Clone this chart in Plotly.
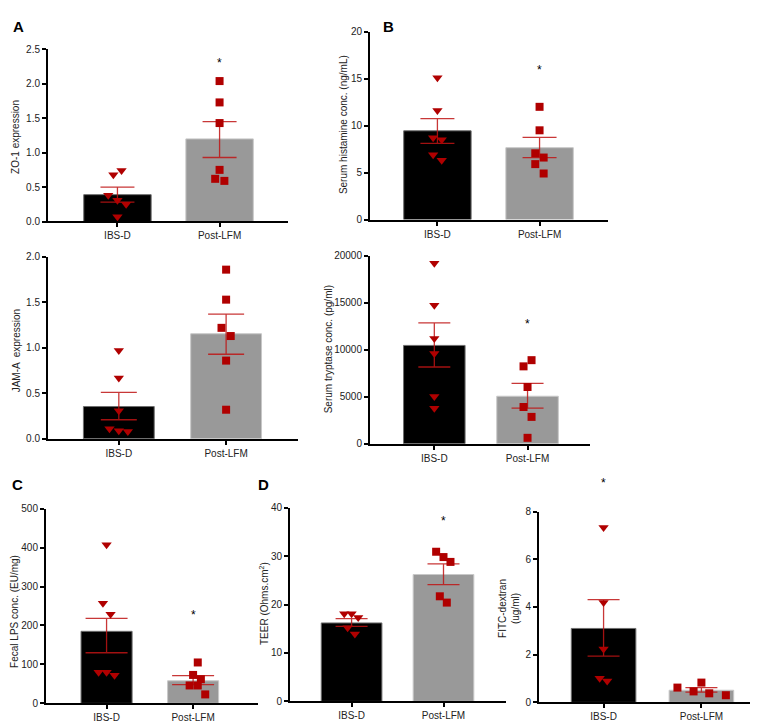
import plotly.graph_objects as go

W, H = 758, 723
groups = ["IBS-D", "Post-LFM"]

# ---------------- data ----------------
# A top: ZO-1 expression
zo1_mean = [0.39, 1.20]
zo1_hi = [0.50, 1.45]
zo1_lo = [0.28, 0.93]
zo1_ibs = [0.68, 0.74, 0.38, 0.31, 0.25, 0.07]
zo1_post = [2.04, 1.73, 1.43, 0.75, 0.62, 0.59]

# A bottom: JAM-A expression
jam_mean = [0.355, 1.155]
jam_hi = [0.51, 1.37]
jam_lo = [0.21, 0.93]
jam_ibs = [0.97, 0.67, 0.31, 0.11, 0.09, 0.08]
jam_post = [1.86, 1.53, 1.22, 1.13, 0.86, 0.32]

# B top: serum histamine
his_mean = [9.45, 7.65]
his_hi = [10.75, 8.75]
his_lo = [8.1, 6.6]
his_ibs = [15.1, 11.6, 8.7, 8.5, 6.9, 6.3]
his_post = [12.0, 9.5, 7.05, 6.6, 5.9, 4.9]

# B bottom: serum tryptase
try_mean = [10470, 5060]
try_hi = [12880, 6420]
try_lo = [8170, 3800]
try_ibs = [19230, 14760, 11200, 9600, 5030, 3770]
try_post = [8900, 8240, 6040, 3910, 2860, 630]

# C: fecal LPS
lps_mean = [185, 58]
lps_hi = [218, 71]
lps_lo = [130, 48]
lps_ibs = [407, 257, 229, 80, 80, 72]
lps_post = [105, 73, 62, 46, 46, 23]

# D left: TEER
teer_mean = [16.2, 26.2]
teer_hi = [17.1, 28.4]
teer_lo = [15.5, 24.1]
teer_ibs = [18.1, 18.1, 17.3, 15.2, 13.9]
teer_post = [30.9, 29.8, 28.8, 21.7, 20.4]

# D right: FITC-dextran
fitc_mean = [3.10, 0.51]
fitc_hi = [4.31, 0.62]
fitc_lo = [1.94, 0.43]
fitc_ibs = [7.33, 4.19, 2.24, 1.01, 0.90]
fitc_post = [0.62, 0.46, 0.83, 0.38, 0.30]

# ---------------- styling ----------------
BAR_COLORS = ["#000000", "#999999"]
BAR_EDGES = ["#6e6e6e", "#c8c8c8"]
PT_COLOR = "#b00000"
ERR_COLOR = "rgba(190,20,20,0.85)"
FONT = "Liberation Sans, Arial, sans-serif"

panels = [
    dict(mean=zo1_mean, hi=zo1_hi, lo=zo1_lo, a=zo1_ibs, b=zo1_post,
         xd=(40, 280), yd=(211, 36), yr=(0, 2.5), dt=0.5, fmt=".1f",
         xr=(-0.68, 1.67), bw=0.66, cap=17,
         ja=[-0.04, 0.04, -0.09, 0, 0.085, 0], jb=[0, 0, 0, 0, -0.043, 0.047],
         star=(1, 2.30)),
    dict(mean=jam_mean, hi=jam_hi, lo=jam_lo, a=jam_ibs, b=jam_post,
         xd=(40, 290), yd=(432, 247), yr=(0, 2.0), dt=0.5, fmt=".1f",
         xr=(-0.66, 1.67), bw=0.66, cap=18,
         ja=[0, 0, 0, -0.087, 0, 0.084], jb=[0, 0, -0.043, 0.043, 0, 0],
         star=None),
    dict(mean=his_mean, hi=his_hi, lo=his_lo, a=his_ibs, b=his_post,
         xd=(362, 600), yd=(209, 18), yr=(0, 20), dt=5, fmt="d",
         xr=(-0.66, 1.67), bw=0.66, cap=17,
         ja=[0, 0, -0.042, 0.042, -0.042, 0.042], jb=[0, 0, -0.042, 0.04, -0.042, 0.04],
         star=(1, 15.9)),
    dict(mean=try_mean, hi=try_hi, lo=try_lo, a=try_ibs, b=try_post,
         xd=(362, 582), yd=(437, 246), yr=(0, 20000), dt=5000, fmt="d",
         xr=(-0.69, 1.67), bw=0.66, cap=16,
         ja=[0, 0, 0, 0, 0, 0], jb=[0.043, -0.043, 0, -0.043, 0.043, 0],
         star=(1, 12800)),
    dict(mean=lps_mean, hi=lps_hi, lo=lps_lo, a=lps_ibs, b=lps_post,
         xd=(38, 250), yd=(701, 503), yr=(0, 500), dt=100, fmt="d",
         xr=(-0.70, 1.75), bw=0.59, cap=21,
         ja=[0, -0.042, 0.046, -0.092, 0, 0.092], jb=[0.054, 0, 0.09, -0.04, 0.054, 0.14],
         star=(1, 228)),
    dict(mean=teer_mean, hi=teer_hi, lo=teer_lo, a=teer_ibs, b=teer_post,
         xd=(282, 498), yd=(699, 502), yr=(0, 40), dt=10, fmt="d",
         xr=(-0.67, 1.68), bw=0.66, cap=16,
         ja=[-0.08, 0, 0.072, -0.043, 0.036], jb=[-0.08, 0, 0.076, -0.04, 0.036],
         star=(1, 37.2)),
    dict(mean=fitc_mean, hi=fitc_hi, lo=fitc_lo, a=fitc_ibs, b=fitc_post,
         xd=(531, 757), yd=(700, 506), yr=(0, 8), dt=2, fmt="d",
         xr=(-0.66, 1.65), bw=0.66, cap=16,
         ja=[0, 0, 0, -0.04, 0.037], jb=[-0.245, -0.08, 0, 0.08, 0.25],
         star=None),
]

fig = go.Figure()
layout = dict(width=W, height=H, margin=dict(l=0, r=0, t=0, b=0),
              paper_bgcolor="white", plot_bgcolor="white", showlegend=False,
              font=dict(family=FONT, size=10, color="#222"), annotations=[])

def px2x(px):
    return px / W

def py2y(py):
    return 1 - py / H

for i, p in enumerate(panels):
    n = "" if i == 0 else str(i + 1)
    xa, ya = "x" + n, "y" + n
    err_plus = [h - m for h, m in zip(p["hi"], p["mean"])]
    err_minus = [m - l for m, l in zip(p["mean"], p["lo"])]
    fig.add_trace(go.Bar(
        x=[0, 1], y=p["mean"], width=p["bw"], xaxis=xa, yaxis=ya,
        marker=dict(color=BAR_COLORS, line=dict(color=BAR_EDGES, width=1)),
        error_y=dict(type="data", array=err_plus, arrayminus=err_minus,
                     color=ERR_COLOR, thickness=1.3, width=p["cap"]),
        hoverinfo="skip"))
    fig.add_trace(go.Scatter(
        x=[0 + j for j in p["ja"]], y=p["a"], mode="markers", xaxis=xa, yaxis=ya,
        marker=dict(symbol="triangle-down", size=9, color=PT_COLOR, line=dict(width=0)),
        cliponaxis=False))
    fig.add_trace(go.Scatter(
        x=[1 + j for j in p["jb"]], y=p["b"], mode="markers", xaxis=xa, yaxis=ya,
        marker=dict(symbol="square", size=8, color=PT_COLOR, line=dict(width=0)),
        cliponaxis=False))
    layout["xaxis" + n] = dict(
        domain=[px2x(p["xd"][0]), px2x(p["xd"][1])], anchor=ya, range=list(p["xr"]),
        tickvals=[0, 1], ticktext=groups, showline=True, linecolor="black", linewidth=2,
        ticks="outside", ticklen=4, tickwidth=1.5, tickcolor="black", showgrid=False,
        zeroline=False, fixedrange=True, tickfont=dict(size=10, color="#222"))
    layout["yaxis" + n] = dict(
        domain=[py2y(p["yd"][0]), py2y(p["yd"][1])], anchor=xa, range=list(p["yr"]),
        dtick=p["dt"], tick0=0, tickformat=p["fmt"], showline=True, linecolor="black",
        linewidth=2, ticks="outside", ticklen=4, tickwidth=1.5, tickcolor="black",
        showgrid=False, zeroline=False, fixedrange=True, tickfont=dict(size=10, color="#222"))
    if p["star"] is not None:
        layout["annotations"].append(dict(
            x=p["star"][0], y=p["star"][1], xref=xa, yref=ya, text="*", showarrow=False,
            font=dict(size=12, color="black")))

# star above the FITC IBS-D bar (above axis top)
layout["annotations"].append(dict(x=0, y=py2y(486), xref="x7", yref="paper", text="*",
                                  showarrow=False, font=dict(size=12, color="black")))

# y axis titles
ytitles = [
    ("ZO-1 expression", 8, 125),
    ("JAM-A  expression", 8, 343),
    ("Serum histamine conc. (ng/mL)", 335, 113),
    ("Serum tryptase conc. (pg/ml)", 320, 341),
    ("Fecal LPS conc. (EU/mg)", 7, 608),
    ("TEER (Ohms.cm<sup>2</sup>)", 256, 600),
    ("FITC-dextran<br>(ug/ml)", 501, 605),
]
for t, x, y in ytitles:
    layout["annotations"].append(dict(
        x=px2x(x), y=py2y(y), xref="paper", yref="paper", text=t, textangle=-90,
        showarrow=False, xanchor="center", yanchor="middle",
        font=dict(size=10, color="#222")))

# panel letters
for t, x, y in [("A", 10, 13), ("B", 380, 13), ("C", 9, 478), ("D", 255, 478)]:
    layout["annotations"].append(dict(
        x=px2x(x), y=py2y(y), xref="paper", yref="paper", text="<b>%s</b>" % t,
        showarrow=False, xanchor="center", yanchor="middle",
        font=dict(size=15, color="black", family="Liberation Sans, Arial, sans-serif")))

fig.update_layout(**layout)
fig.write_html("out.html")
